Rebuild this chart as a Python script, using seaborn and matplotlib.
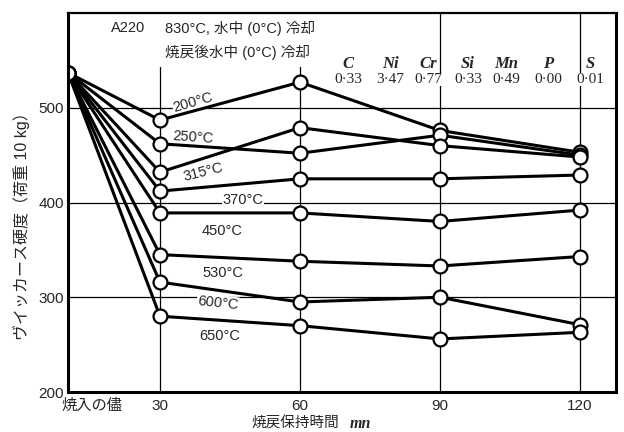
import matplotlib
matplotlib.use("Agg")
import matplotlib.pyplot as plt
import matplotlib.transforms as mtransforms
import pandas as pd
import seaborn as sns

# %%
# 焼戻保持時間 (mn) : 最初の点は「焼入の儘」
X_POS = [10.3, 30, 60, 90, 120]
X_LABELS = ["焼入の儘", "30", "60", "90", "120"]

Y_TICKS = [200, 300, 400, 500]

TEMPS = ["200°C", "250°C", "315°C", "370°C", "450°C", "530°C", "600°C", "650°C"]

H_QUENCHED = 537
H_200 = [487, 527, 476, 453]
H_250 = [462, 452, 471, 450]
H_315 = [432, 479, 460, 448]
H_370 = [412, 425, 425, 429]
H_450 = [389, 389, 380, 392]
H_530 = [345, 338, 333, 343]
H_600 = [316, 295, 300, 271]
H_650 = [280, 270, 256, 263]

ELEMENTS = ["C", "Ni", "Cr", "Si", "Mn", "P", "S"]
CONTENTS = ["0·33", "3·47", "0·77", "0·33", "0·49", "0·00", "0·01"]

# ラベル位置 (データ座標) と回転
LABEL_X = [37.1, 37.1, 39.2, 47.8, 43.3, 43.5, 42.4, 42.9]
LABEL_Y = [506, 469, 432, 403, 370, 326, 294, 259]
LABEL_ROT = [16, -4, 14, 0, 0, 0, -6, 0]
TABLE_X = [70.3, 79.3, 87.4, 96.0, 104.1, 113.1, 122.1]

JP = ["Liberation Sans", "Noto Sans CJK JP"]
SERIF = ["Liberation Serif", "DejaVu Serif"]


# %%
series = [H_200, H_250, H_315, H_370, H_450, H_530, H_600, H_650]
filas = []
for temp, valores in zip(TEMPS, series):
    for x, h in zip(X_POS, [H_QUENCHED] + valores):
        filas.append({"temp": temp, "tiempo": x, "dureza": h})
datos = pd.DataFrame(filas)

sns.set_style("white")
plt.rcParams["font.family"] = JP

fig = plt.figure(figsize=(6.24, 4.32), dpi=100)
ax = fig.add_axes([68 / 624, 1 - 392 / 432, 548 / 624, 379 / 432])

for x in X_POS[1:]:
    ax.axvline(x, color="black", lw=0.9, zorder=1)
for y in Y_TICKS[1:]:
    ax.axhline(y, color="black", lw=0.9, zorder=1)

for temp in TEMPS:
    sns.lineplot(
        data=datos[datos["temp"] == temp], x="tiempo", y="dureza",
        color="black", lw=2.2, marker="o", markersize=10,
        markerfacecolor="white", markeredgecolor="black", markeredgewidth=1.6,
        ax=ax, zorder=4,
    )

for texto, x, y, rot in zip(TEMPS, LABEL_X, LABEL_Y, LABEL_ROT):
    ax.text(x, y, texto, fontsize=10.5, ha="center", va="center", rotation=rot,
            rotation_mode="anchor",
            bbox=dict(facecolor="white", edgecolor="none", pad=0.5), zorder=3)

# encabezado
ax.text(23.1, 584, "A220", fontsize=10.5, ha="center", va="center", zorder=3)
ax.text(31.0, 571, "830°C, 水中 (0°C) 冷却\n焼戻後水中 (0°C) 冷却", fontsize=10.5,
        ha="left", va="center", linespacing=1.75,
        bbox=dict(facecolor="white", edgecolor="none", boxstyle="square,pad=0.45"),
        zorder=3)

for x, el, val in zip(TABLE_X, ELEMENTS, CONTENTS):
    ax.text(x, 546, el, fontsize=12, family=SERIF, style="italic",
            weight="bold", ha="center", va="center",
            bbox=dict(facecolor="white", edgecolor="none", pad=0), zorder=3)
    ax.text(x, 530, val, fontsize=11, family=SERIF, ha="center", va="center",
            bbox=dict(facecolor="white", edgecolor="none", pad=0), zorder=3)

ax.set_xlim(X_POS[0], 127.7)
ax.set_ylim(200, 600)
ax.set_xticks(X_POS)
ax.set_xticklabels(X_LABELS, fontsize=11)
ax.set_yticks(Y_TICKS)
ax.set_yticklabels([str(v) for v in Y_TICKS], fontsize=11)
ax.tick_params(length=0, pad=3)
ax.tick_params(axis="x", pad=5)
desplaza = mtransforms.ScaledTranslation(24 / 100, 0, fig.dpi_scale_trans)
etiqueta0 = ax.get_xticklabels()[0]
etiqueta0.set_transform(etiqueta0.get_transform() + desplaza)

ax.set_xlabel("")
ax.set_ylabel("")
fig.text(295 / 624, 1 - 424 / 432, "焼戻保持時間", fontsize=10.5, ha="center", va="center")
fig.text(360 / 624, 1 - 424 / 432, "mn", fontsize=11.5, family=SERIF,
         style="italic", weight="bold", ha="center", va="center")
fig.text(22 / 624, 1 - 222 / 432, "ヴイッカース硬度（荷重 10 kg）", fontsize=11.5,
         rotation=90, ha="center", va="center")

for lado in ["left", "bottom", "right"]:
    ax.spines[lado].set_linewidth(2.2)
ax.spines["top"].set_linewidth(1.6)
for sp in ax.spines.values():
    sp.set_color("black")
    sp.set_zorder(5)

fig.savefig("out.png", dpi=100)
